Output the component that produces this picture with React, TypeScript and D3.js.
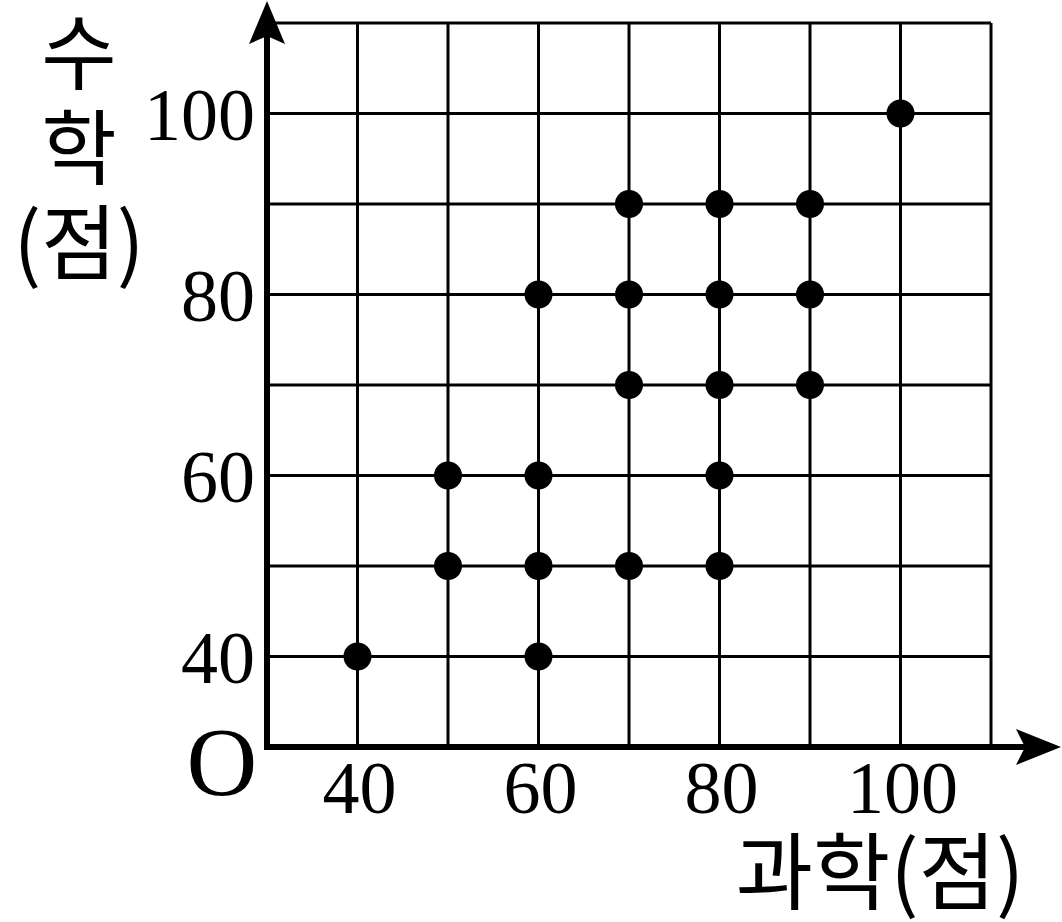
import React from "react";
import * as d3 from "d3";

const xTicks = [40, 60, 80, 100];
const yTicks = [40, 60, 80, 100];
const gridValues = [40, 50, 60, 70, 80, 90, 100, 110];
const scienceScores = [40, 50, 50, 60, 60, 60, 60, 70, 70, 70, 70, 80, 80, 80, 80, 80, 90, 90, 90, 100];
const mathScores = [40, 60, 50, 80, 60, 50, 40, 90, 80, 70, 50, 90, 80, 70, 60, 50, 90, 80, 70, 100];
const xTitle = "과학(점)";
const yTitleLines = ["수", "학", "(점)"];

export default function App() {
  const W = 1062, H = 922;
  const x = d3.scaleLinear().domain([30, 110]).range([267, 991]);
  const y = d3.scaleLinear().domain([30, 110]).range([747, 23]);
  const x0 = x(30), y0 = y(30);
  const numFont = "'Liberation Serif', 'DejaVu Serif', serif";
  const korFont = "'Noto Sans CJK KR', sans-serif";
  return (
    <svg width={W} height={H} style={{ position: "absolute", left: 0, top: 0, background: "#fff" }}>
      <rect width={W} height={H} fill="#fff" />
      {gridValues.map((v) => (
        <line key={"v" + v} x1={x(v)} x2={x(v)} y1={y(110)} y2={y0} stroke="#000" strokeWidth={3} />
      ))}
      {gridValues.map((v) => (
        <line key={"h" + v} x1={x0} x2={x(110)} y1={y(v)} y2={y(v)} stroke="#000" strokeWidth={3} />
      ))}
      {/* axes */}
      <line x1={x0} x2={x0} y1={y0 + 3} y2={30} stroke="#000" strokeWidth={6} />
      <line x1={x0 - 3} x2={1030} y1={y0} y2={y0} stroke="#000" strokeWidth={6} />
      <path d={`M${x0},1 L${x0 + 18},44 L${x0},36 L${x0 - 18},44 Z`} fill="#000" />
      <path d={`M1061,${y0} L1016,${y0 - 18} L1025,${y0} L1016,${y0 + 18} Z`} fill="#000" />
      {/* points */}
      {scienceScores.map((s, i) => (
        <circle key={i} cx={x(s)} cy={y(mathScores[i])} r={14} fill="#000" />
      ))}
      {/* tick labels */}
      {yTicks.map((v) => (
        <text key={"yt" + v} x={255} y={y(v) + 26} textAnchor="end" fontFamily={numFont} fontSize={74} fill="#000">
          {v}
        </text>
      ))}
      {xTicks.map((v) => (
        <text key={"xt" + v} x={x(v) + 2} y={813} textAnchor="middle" fontFamily={numFont} fontSize={74} fill="#000">
          {v}
        </text>
      ))}
      <text x={222} y={795} textAnchor="middle" fontFamily={numFont} fontSize={98} fill="#000">O</text>
      {/* titles */}
      {yTitleLines.map((t, i) => (
        <text key={"yl" + i} x={79} y={47 + i * 95} textAnchor="middle" dominantBaseline="central" fontFamily={korFont} fontSize={82} fill="#000">
          {t}
        </text>
      ))}
      <text x={880} y={866} textAnchor="middle" dominantBaseline="central" fontFamily={korFont} fontSize={84} fill="#000">
        {xTitle}
      </text>
    </svg>
  );
}
